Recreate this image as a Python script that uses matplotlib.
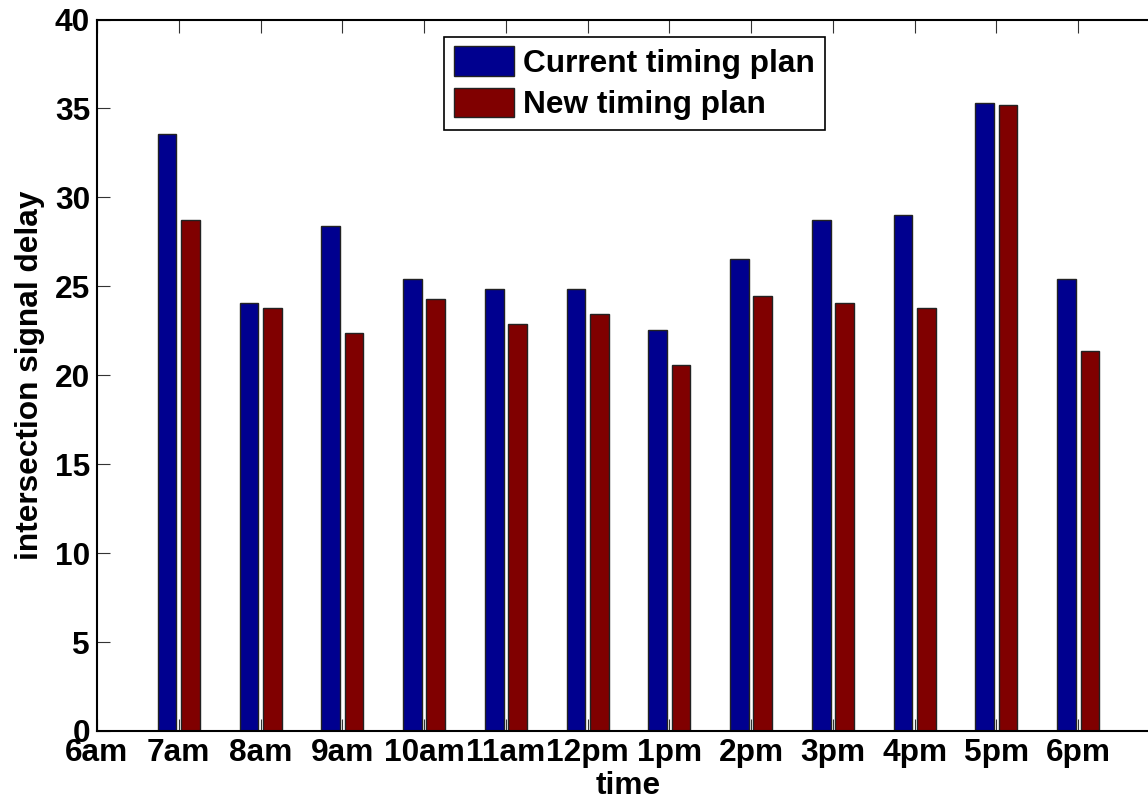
import numpy as np
import matplotlib
matplotlib.use("Agg")
import matplotlib.pyplot as plt

# hour labels on the x axis (6am is empty, bars start at 7am)
hour_labels = ['6am', '7am', '8am', '9am', '10am', '11am', '12pm',
               '1pm', '2pm', '3pm', '4pm', '5pm', '6pm']

# intersection signal delay per hour, 7am .. 6pm
current_plan = [33.55, 24.08, 28.37, 25.41, 24.85, 24.85, 22.54,
                26.52, 28.73, 29.03, 35.31, 25.41]
new_plan = [28.73, 23.76, 22.35, 24.3, 22.9, 23.44, 20.57,
            24.43, 24.08, 23.76, 35.2, 21.36]

plt.rcParams['font.family'] = ['Liberation Sans', 'DejaVu Sans']
plt.rcParams['font.weight'] = 'bold'
fs = 22.8

fig = plt.figure(figsize=(11.48, 7.99), dpi=100)
# axes runs a little past the right edge, as in the original export
ax = fig.add_axes([97 / 1148, 68 / 799, 1063 / 1148, 711.5 / 799])

x = np.arange(1, len(current_plan) + 1)
group_w = 2 / 3.5
bar_w = group_w / 2 * 0.8
off = group_w / 4

ax.bar(x - off, current_plan, width=bar_w, color='#00008F',
       edgecolor='#222222', linewidth=1, label='Current timing plan', zorder=2)
ax.bar(x + off, new_plan, width=bar_w, color='#800000',
       edgecolor='#222222', linewidth=1, label='New timing plan', zorder=2)

ax.set_xlim(0, 13)
ax.set_ylim(0, 40)
ax.set_xticks(range(len(hour_labels)))
ax.set_xticklabels(hour_labels, fontsize=fs, fontweight='bold')
ax.set_yticks(range(0, 41, 5))
ax.set_yticklabels([str(v) for v in range(0, 41, 5)], fontsize=fs, fontweight='bold')
ax.tick_params(axis='both', direction='in', length=9, width=0.8,
               top=True, right=True, color='#333333')
ax.tick_params(axis='x', pad=5)
ax.tick_params(axis='y', pad=5)
for s in ax.spines.values():
    s.set_linewidth(1.5)

ax.set_xlabel('time', fontsize=fs, fontweight='bold', labelpad=2)
ax.set_ylabel('intersection signal delay', fontsize=fs, fontweight='bold', labelpad=7)

leg = ax.legend(loc='upper left', bbox_to_anchor=(444 / 1148, 1 - 36.7 / 799),
                bbox_transform=fig.transFigure, borderaxespad=0,
                prop={'weight': 'bold', 'size': fs},
                fancybox=False, framealpha=1, edgecolor='black',
                handlelength=1.9, handleheight=1.05, handletextpad=0.3,
                labelspacing=0.28, borderpad=0.3)
leg.get_frame().set_linewidth(1.2)

fig.savefig('out.png', dpi=100)
